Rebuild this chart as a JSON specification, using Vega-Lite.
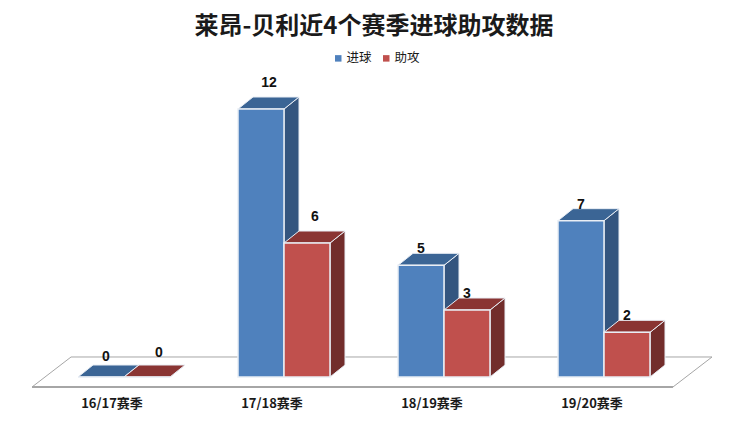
{"$schema":"https://vega.github.io/schema/vega-lite/v6.json","autosize":{"type":"none"},"padding":{"left":44,"top":64,"right":68,"bottom":59},"width":640,"height":313,"background":"white","config":{"view":{"stroke":null}},
"title":{"text":"莱昂-贝利近4个赛季进球助攻数据","font":"Noto Sans CJK SC","fontSize":24,"fontWeight":"bold","color":"#1a1a1a","anchor":"middle","frame":"group","dx":10,"offset":13},
"resolve":{"scale":{"x":"independent"},"axis":{"x":"independent"}},
"layer":[
{"data":{"values":[{"along":-0.575,"up":-0.448,"i":1},{"along":-0.331,"up":0.896,"i":2},{"along":3.675,"up":0.896,"i":3},{"along":3.431,"up":-0.448,"i":4}]},"mark":{"type":"line","color":"#a6a6a6","strokeWidth":1,"clip":false},"encoding":{"x":{"field":"along","type":"quantitative","scale":{"domain":[-0.5,3.5]},"axis":null},"y":{"field":"up","type":"quantitative","scale":{"domain":[0,14.015]},"axis":null},"order":{"field":"i"}}},
{"data":{"values":[{"along":-0.575,"up":-0.448,"i":1},{"along":3.431,"up":-0.448,"i":2}]},"mark":{"type":"line","color":"#a6a6a6","strokeWidth":2,"clip":false},"encoding":{"x":{"field":"along","type":"quantitative","scale":{"domain":[-0.5,3.5]},"axis":null},"y":{"field":"up","type":"quantitative","scale":{"domain":[0,14.015]},"axis":null},"order":{"field":"i"}}},
{"data":{"values":[{"season":"16/17赛季","metric":"进球","value":0},{"season":"16/17赛季","metric":"助攻","value":0},{"season":"17/18赛季","metric":"进球","value":12},{"season":"17/18赛季","metric":"助攻","value":6},{"season":"18/19赛季","metric":"进球","value":5},{"season":"18/19赛季","metric":"助攻","value":3},{"season":"19/20赛季","metric":"进球","value":7},{"season":"19/20赛季","metric":"助攻","value":2}]},
"encoding":{"x":{"field":"season","type":"nominal","sort":null,"scale":{"paddingInner":0.425,"paddingOuter":0.2125},"axis":{"title":null,"domain":false,"ticks":false,"labelAngle":0,"labelOffset":-12,"labelPadding":20,"labelFont":"Noto Sans CJK SC","labelFontWeight":"bold","labelFontSize":13,"labelColor":"#1a1a1a"}},"xOffset":{"field":"metric","type":"nominal","sort":["进球","助攻"],"scale":{"paddingInner":0,"paddingOuter":0}},"y":{"field":"value","type":"quantitative","scale":{"domain":[0,14.015]},"axis":null}},
"layer":[
{"mark":{"type":"point","filled":true,"opacity":1,"size":4,"stroke":"#e9eef5","strokeWidth":1},"encoding":{"fill":{"condition":{"test":"datum.metric==='进球'","value":"#34557f"},"value":"#722d2b"},"shape":{"field":"value","type":"nominal","legend":null,"scale":{"domain":[0,2,3,5,6,7,12],"range":["M23,0L38,-12Z","M23,0L38,-12L38,32.7L23,44.7Z","M23,0L38,-12L38,55L23,67Z","M23,0L38,-12L38,99.7L23,111.7Z","M23,0L38,-12L38,122L23,134Z","M23,0L38,-12L38,144.3L23,156.3Z","M23,0L38,-12L38,256L23,268Z"]}}}},
{"mark":{"type":"point","filled":true,"opacity":1,"size":4,"stroke":"#e9eef5","strokeWidth":1,"shape":"M-23,0L23,0L38,-12L-8,-12Z"},"encoding":{"fill":{"condition":{"test":"datum.metric==='进球'","value":"#3b6595"},"value":"#8a3533"}}},
{"mark":{"type":"bar","stroke":"#e9eef5","strokeWidth":1.5},"encoding":{"color":{"field":"metric","type":"nominal","sort":["进球","助攻"],"scale":{"domain":["进球","助攻"],"range":["#4f81bd","#c0504d"]},"legend":{"title":null,"orient":"none","legendX":288,"legendY":-12,"direction":"horizontal","symbolType":"square","symbolSize":42,"symbolStrokeWidth":0,"labelFont":"Noto Sans CJK SC","labelFontSize":12.5,"labelColor":"#1a1a1a","labelOffset":2,"columnPadding":8}}}},
{"transform":[{"filter":"datum.value===12||datum.value===6"}],"mark":{"type":"text","font":"Liberation Sans","fontWeight":"bold","fontSize":14,"color":"#111111","dx":8,"yOffset":-26},"encoding":{"text":{"field":"value","type":"quantitative"}}},
{"transform":[{"filter":"datum.value===5||datum.value===3||datum.value===7||datum.value===2"}],"mark":{"type":"text","font":"Liberation Sans","fontWeight":"bold","fontSize":14,"color":"#111111","dx":0,"yOffset":-16},"encoding":{"text":{"field":"value","type":"quantitative"}}},
{"transform":[{"filter":"datum.value===0&&datum.metric==='进球'"}],"mark":{"type":"text","font":"Liberation Sans","fontWeight":"bold","fontSize":14,"color":"#111111","dx":5,"yOffset":-20},"encoding":{"text":{"field":"value","type":"quantitative"}}},
{"transform":[{"filter":"datum.value===0&&datum.metric==='助攻'"}],"mark":{"type":"text","font":"Liberation Sans","fontWeight":"bold","fontSize":14,"color":"#111111","dx":12,"yOffset":-24},"encoding":{"text":{"field":"value","type":"quantitative"}}}
]}
]}
